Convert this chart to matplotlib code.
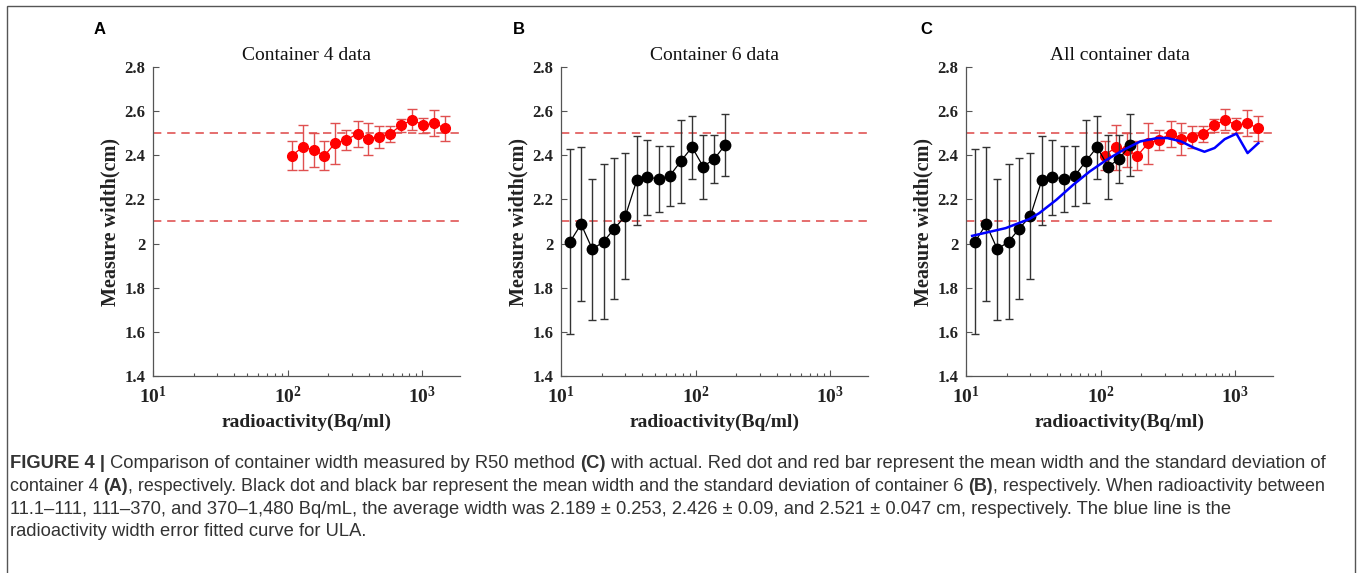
import matplotlib
matplotlib.use("Agg")
import matplotlib.pyplot as plt
from matplotlib.patches import Rectangle
from matplotlib.ticker import FixedLocator, LogLocator, FuncFormatter, NullFormatter
import numpy as np

# container 4 (red) data
c4_x = [107, 129, 156, 187, 225, 273, 330, 396, 478, 576, 691, 843, 1017, 1219, 1463]
c4_mean = [2.398, 2.437, 2.425, 2.398, 2.455, 2.470, 2.498, 2.475, 2.484, 2.498, 2.535, 2.561, 2.535, 2.546, 2.523]
c4_std = [0.066, 0.102, 0.077, 0.066, 0.093, 0.046, 0.059, 0.073, 0.049, 0.036, 0.030, 0.047, 0.035, 0.058, 0.057]

# container 6 (black) data
c6_x = [11.7, 14.1, 17.1, 20.7, 24.9, 30.1, 36.5, 43.8, 53, 64, 77.3, 93.9, 113.5, 137, 166]
c6_mean = [2.009, 2.088, 1.974, 2.009, 2.068, 2.126, 2.286, 2.300, 2.294, 2.306, 2.372, 2.437, 2.349, 2.383, 2.448]
c6_std = [0.42, 0.35, 0.32, 0.35, 0.32, 0.285, 0.203, 0.17, 0.15, 0.137, 0.19, 0.143, 0.145, 0.11, 0.14]

# fitted curve (blue) for ULA
fit_x = [11.1, 19.7, 29.5, 35, 46.8, 62.4, 83, 111, 148, 197, 263, 313, 394, 496, 589, 700, 832, 1017, 1230, 1479]
fit_y = [2.035, 2.070, 2.111, 2.138, 2.198, 2.266, 2.327, 2.380, 2.425, 2.463, 2.478, 2.478, 2.463, 2.433,
         2.416, 2.433, 2.473, 2.498, 2.410, 2.455]

ref_lines = [2.5, 2.1]
titles = ["Container 4 data", "Container 6 data", "All container data"]
letters = ["A", "B", "C"]

serif = "Liberation Serif"
cap_font = "Liberation Sans"

plt.rcParams["mathtext.fontset"] = "custom"
plt.rcParams["mathtext.bf"] = "Liberation Serif:bold"
plt.rcParams["mathtext.rm"] = "Liberation Serif"

W, H = 1357, 573
fig = plt.figure(figsize=(W / 100, H / 100), dpi=100)

# outer frame
fig.patches.append(Rectangle((7 / W, -0.05), (1355 - 7) / W, 1.05 - 6 / H, transform=fig.transFigure,
                             fill=False, edgecolor="#555555", linewidth=1.0))

lefts = [153, 561, 966]
letter_x = [94, 513, 920]
ax_w, ax_top, ax_bot = 307, 67, 376
axes = []
for i, lx in enumerate(lefts):
    ax = fig.add_axes([lx / W, 1 - ax_bot / H, ax_w / W, (ax_bot - ax_top) / H])
    axes.append(ax)
    ax.set_xscale("log")
    ax.set_xlim(10, 1900)
    ax.set_ylim(1.4, 2.8)
    for s in ["top", "right"]:
        ax.spines[s].set_visible(False)
    for s in ["left", "bottom"]:
        ax.spines[s].set_color("#555555")
        ax.spines[s].set_linewidth(0.9)
    ax.xaxis.set_major_locator(FixedLocator([10, 100, 1000]))
    ax.xaxis.set_minor_locator(LogLocator(base=10, subs=np.arange(2, 10)))
    ax.xaxis.set_minor_formatter(NullFormatter())
    ax.xaxis.set_major_formatter(FuncFormatter(lambda v, p: r"$\mathbf{10^{%d}}$" % round(np.log10(v))))
    ax.set_yticks(np.arange(1.4, 2.81, 0.2))
    ax.yaxis.set_major_formatter(FuncFormatter(lambda v, p: "%g" % round(v, 1)))
    ax.tick_params(direction="in", which="both", color="#555555", width=0.8)
    ax.tick_params(which="major", length=4)
    ax.tick_params(which="minor", length=2.5)
    ax.tick_params(axis="x", pad=7)
    ax.tick_params(axis="y", pad=5.5)
    for lab in ax.get_yticklabels():
        lab.set_fontfamily(serif)
        lab.set_fontweight("bold")
        lab.set_fontsize(12)
        lab.set_color("#222222")
    for lab in ax.get_xticklabels():
        lab.set_fontfamily(serif)
        lab.set_fontsize(14)
        lab.set_color("#222222")
    for r in ref_lines:
        ax.axhline(r, color="#e05555", linestyle=(0, (5, 3.5)), linewidth=1.2, zorder=1)
    ax.set_title(titles[i], fontfamily=serif, fontsize=14, color="#111111", pad=5)
    ax.set_ylabel("Measure width(cm)", fontfamily=serif, fontweight="bold", fontsize=14.5,
                  color="#222222")
    ax.yaxis.set_label_coords(-0.105, 0.5)
    ax.set_xlabel("radioactivity(Bq/ml)", fontfamily=serif, fontweight="bold", fontsize=14,
                  color="#222222", labelpad=5)
    fig.text(letter_x[i] / W, 1 - 30 / H, letters[i], fontfamily="Liberation Sans", fontweight="bold",
             fontsize=12, va="center", ha="left")


def draw_red(ax):
    ax.errorbar(c4_x, c4_mean, yerr=c4_std, color="#ff0000", ecolor="#e05050", elinewidth=1.0,
                capsize=3.5, capthick=1.0, marker="o", markersize=7, linewidth=0.9, zorder=3)


def draw_black(ax):
    ax.errorbar(c6_x, c6_mean, yerr=c6_std, color="#000000", ecolor="#333333", elinewidth=1.0,
                capsize=3, capthick=1.0, marker="o", markersize=7.5, linewidth=0.9, zorder=4)


draw_red(axes[0])
draw_black(axes[1])
draw_red(axes[2])
draw_black(axes[2])
axes[2].plot(fit_x, fit_y, color="#0000ff", linewidth=1.8, zorder=5)

# caption with mixed bold segments
caption = [
    [("FIGURE 4 |", True), (" Comparison of container width measured by R50 method ", False), ("(C)", True),
     (" with actual. Red dot and red bar represent the mean width and the standard deviation of", False)],
    [("container 4 ", False), ("(A)", True),
     (", respectively. Black dot and black bar represent the mean width and the standard deviation of container 6 ", False),
     ("(B)", True), (", respectively. When radioactivity between", False)],
    [("11.1\u2013111, 111\u2013370, and 370\u20131,480 Bq/mL, the average width was 2.189 \u00b1 0.253, "
      "2.426 \u00b1 0.09, and 2.521 \u00b1 0.047 cm, respectively. The blue line is the", False)],
    [("radioactivity width error fitted curve for ULA.", False)],
]
line_base = [468, 491, 514, 536]
line_size = [13.2, 12.85, 13.2, 13.2]
renderer = fig.canvas.get_renderer()
for segs, yy, fs in zip(caption, line_base, line_size):
    x = 10
    for txt, bold in segs:
        t = fig.text(x / W, 1 - yy / H, txt, fontfamily=cap_font, fontsize=fs,
                     fontweight="bold" if bold else "normal", color="#333333", va="baseline", ha="left")
        bb = t.get_window_extent(renderer=renderer)
        x += bb.width

fig.savefig("out.png", dpi=100)
